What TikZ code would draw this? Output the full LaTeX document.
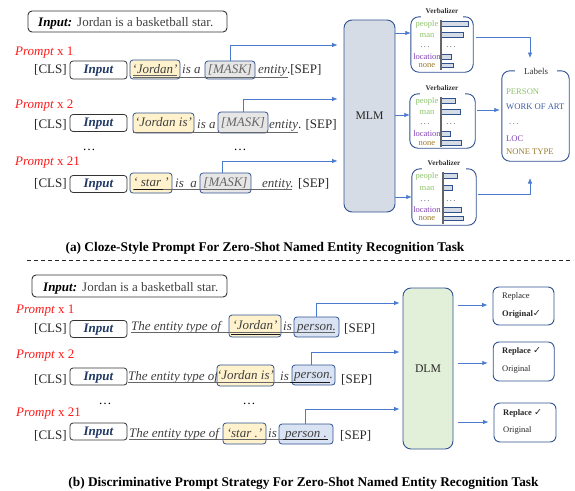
\documentclass[tikz,border=0pt]{standalone}
\usepackage{fontspec}
\setmainfont{Liberation Serif}
\newfontfamily\symfont{DejaVu Sans}
\usetikzlibrary{arrows.meta}
\newcommand\fsz[1]{\fontsize{#1pt}{#1pt}\selectfont}
\definecolor{edgeblue}{HTML}{2F528F}
\definecolor{arrowblue}{HTML}{4A7BD0}
\definecolor{fillyel}{HTML}{FFF2CC}
\definecolor{fillgrey}{HTML}{E7E6E6}
\definecolor{fillperson}{HTML}{DAE3F3}
\definecolor{fillmlm}{HTML}{D6DCE5}
\definecolor{filldlm}{HTML}{E2F0D9}
\definecolor{navy}{HTML}{1F3864}
\definecolor{pgreen}{HTML}{8DC26A}
\definecolor{ppurple}{HTML}{8040B0}
\definecolor{polive}{HTML}{9A7B2C}
\definecolor{pblue}{HTML}{3B5BA5}
\definecolor{promptred}{HTML}{FF1A1A}
\definecolor{txtgrey}{HTML}{404040}
\begin{document}
\begin{tikzpicture}[x=1pt,y=-1pt,
  every node/.style={inner sep=0pt,font=\fsz{13}},
  txt/.style={anchor=base west,text=black!85},
  itx/.style={anchor=base west,text=txtgrey,font=\fsz{13}\itshape},
  prm/.style={anchor=base west,text=promptred},
  inbox/.style={draw=black!80,line width=0.8pt,rounded corners=3pt,fill=white,
    minimum width=57pt,text height=9pt,text depth=2pt,text=navy,font=\fsz{13}\bfseries\itshape},
  tagbox/.style={draw=edgeblue,line width=0.8pt,rounded corners=3pt,
    text height=9pt,text depth=2pt,text=txtgrey,font=\fsz{13}\itshape},
  ent/.style={tagbox,fill=fillyel},
  msk/.style={tagbox,fill=fillgrey,text=black!60},
  per/.style={tagbox,fill=fillperson},
  lm/.style={draw=edgeblue,line width=0.9pt,rounded corners=8pt,font=\fsz{11.7},text=black!85},
  arr/.style={draw=arrowblue,line width=0.7pt,-{Latex[length=5.5pt,width=4.5pt]}},
  uline/.style={draw=black!60,line width=0.8pt},
  udark/.style={draw=black!90,line width=1pt},
  vword/.style={font=\fsz{8.5},anchor=base},
  bar/.style={draw=edgeblue,fill=fillmlm,line width=0.7pt},
  vframe/.style={draw=edgeblue,line width=0.9pt,rounded corners=8pt},
  res/.style={draw=edgeblue,line width=0.9pt,rounded corners=6pt},
  rtxt/.style={anchor=base west,font=\fsz{8.5},text=black!85},
  lab/.style={anchor=base west,font=\fsz{8.6}},
  captxt/.style={anchor=base,font=\fsz{13.3}\bfseries}]
\useasboundingbox (0,0) rectangle (575,490);

% ---------- (a) cloze-style prompts ----------
\node[draw=black!80,line width=0.9pt,rounded corners=4pt,minimum width=199pt,minimum height=21pt] (ina) at (127.5,21.5) {};
\node[anchor=base west,font=\fsz{13}\bfseries\itshape] (ina1) at (38,26) {Input:};
\node[txt,text=black!75] (ina2) at (77,26) {Jordan is a basketball star.};

\node[prm] (pa1) at (15,55) {\textit{Prompt} x 1};
\node[prm] (pa2) at (15,108) {\textit{Prompt} x 2};
\node[prm] (pa3) at (15,165) {\textit{Prompt} x 21};

% row 1
\node[txt] (ca1) at (34,73) {[CLS]};
\node[inbox,minimum height=18pt] (ia1) at (98.5,70) {Input};
\node[ent,minimum width=50pt,minimum height=19pt] (ea1) at (155,69.5) {‘Jordan’};
\node[itx] (ta1) at (182,73) {is a};
\node[msk,minimum width=50pt,minimum height=18pt] (ma1) at (230,70) {[MASK]};
\node[txt] (sa1) at (258,73) {{\color{txtgrey}\itshape entity}.[SEP]};
\draw[uline] (133,75) -- (177,75);
\draw[uline] (133,77.7) -- (288,77.7);

% row 2
\node[txt] (ca2) at (34,128) {[CLS]};
\node[inbox,minimum height=17pt] (ia2) at (98.5,123) {Input};
\node[ent,minimum width=61pt,minimum height=20pt] (ea2) at (163.5,123) {‘Jordan is’};
\node[itx] (ta2) at (197,128) {is a};
\node[msk,minimum width=50pt,minimum height=21pt] (ma2) at (243,122.5) {[MASK]};
\node[txt] (sa2) at (269,128) {{\color{txtgrey}\itshape entity}. [SEP]};
\draw[uline] (133,132.7) -- (298,132.7);

\node[anchor=base] (da1) at (89,150) {\dots};
\node[anchor=base] (da2) at (240,150) {\dots};

% row 3
\node[txt] (ca3) at (34,187) {[CLS]};
\node[inbox,minimum height=17pt] (ia3) at (98.5,184) {Input};
\node[ent,minimum width=42pt,minimum height=20pt] (ea3) at (151,183) {‘ star ’};
\node[itx] (ta3) at (175,187) {is\ \ a};
\node[msk,minimum width=51pt,minimum height=20pt] (ma3) at (225.5,183) {[MASK]};
\node[itx] (sa3) at (262,187) {entity.};
\node[txt] (sp3) at (298,187) {[SEP]};
\draw[uline] (133,189.3) -- (292,189.3);
\draw[udark] (134,189) -- (163,189);

% masked language model
\node[lm,fill=fillmlm,minimum width=51pt,minimum height=192pt] (mlm) at (369.5,116) {MLM};
\draw[arr,shorten >=6pt] (ma1.north) |- (mlm.west |- 0,45);
\draw[arr,shorten >=6pt] (ma2.north) |- (mlm.west |- 0,99);
\draw[arr,shorten >=6pt] ([xshift=-3pt]ma3.north) |- (mlm.west |- 0,161);

% verbalizers
\node[minimum width=62pt,minimum height=55pt] (v1) at (442,44.5) {};
\node[minimum width=65pt,minimum height=54pt] (v2) at (442.5,121) {};
\node[minimum width=64pt,minimum height=56pt] (v3) at (444,197) {};
\foreach \v in {v1,v2,v3}{
  \draw[vframe] ([xshift=10pt]\v.north west) -- (\v.north west) -- (\v.south west)
    -- (\v.south east) -- (\v.north east) -- ([xshift=-10pt]\v.north east);
}
\node[anchor=base,font=\fsz{7.3}\bfseries,text=black!80] (vt1) at (442,13.5) {Verbalizer};
\node[anchor=base,font=\fsz{7.3}\bfseries,text=black!80] (vt2) at (442,90.5) {Verbalizer};
\node[anchor=base,font=\fsz{7.3}\bfseries,text=black!80] (vt3) at (444,165) {Verbalizer};

\foreach \v/\yp/\ym/\yd/\yl/\yn in {1/26/37/47/59/67.5, 2/103/114/124/136/145, 3/178/190/201/212.5/220.5}{
  \node[vword,text=pgreen] (pe\v) at (427,\yp) {people};
  \node[vword,text=pgreen] (mn\v) at (427,\ym) {man};
  \node[vword,text=black!70] (dl\v) at (425,\yd) {.\,.\,.};
  \node[vword,text=ppurple] (lo\v) at (427,\yl) {location};
  \node[vword,text=polive] (no\v) at (427,\yn) {none};
  \node[vword,text=black!70] (dr\v) at (451,\yd) {.\,.\,.};
}
% score bars
\foreach \x/\y/\xe in {441/24/468, 441/35/463, 441/57/451, 441/65.5/453,
                        441/101/455, 441/112/460, 441/134/450, 441/143/461,
                        443/176/457, 443/188/452, 443/210/461, 443/218.5/463}{
  \draw[bar] (\x,\y-2.25) rectangle (\xe,\y+2.25);
}
\draw[black!60,line width=1.2pt] (441,20) -- (441,70);
\draw[black!60,line width=1.2pt] (441,97) -- (441,147);
\draw[black!60,line width=1.2pt] (443,172) -- (443,224);

\draw[arr] ([yshift=11.5pt]mlm.east |- v1.west) -- ([yshift=11.5pt]v1.west);
\draw[arr] ([yshift=6pt]mlm.east |- v2.west) -- ([yshift=6pt]v2.west);
\draw[arr] (mlm.east |- v3.west) -- (v3.west);

% label set
\node[minimum width=67pt,minimum height=90pt] (labs) at (535.5,116) {};
\draw[vframe] ([xshift=13pt]labs.north west) -- (labs.north west) -- (labs.south west)
  -- (labs.south east) -- (labs.north east) -- ([xshift=-12pt]labs.north east);
\node[anchor=base,font=\fsz{9},text=black!80] (labt) at (536,74) {Labels};
\node[lab,text=pgreen] (lb1) at (506,94) {PERSON};
\node[lab,text=pblue] (lb2) at (506,109) {WORK OF ART};
\node[lab,text=pblue] (lb3) at (509,124) {.\,.\,.};
\node[lab,text=ppurple] (lb4) at (506,141) {LOC};
\node[lab,text=polive] (lb5) at (506,154.5) {NONE TYPE};

\coordinate (labtop) at (530,58);
\coordinate (labbot) at (530,178);
\draw[arr] ([xshift=3pt,yshift=7.5pt]v1.east) -| (labtop);
\draw[arr] ([xshift=2pt,yshift=11pt]v2.east) -- ([xshift=-2pt,yshift=6pt]labs.west);
\draw[arr] ([xshift=2pt,yshift=3pt]v3.east) -| (labbot);

\node[captxt] (capa) at (265,251) {(a) Cloze-Style Prompt For Zero-Shot Named Entity Recognition Task};
\draw[black!85,line width=0.8pt,dash pattern=on 4pt off 3pt] (27,260) -- (573,260);

% ---------- (b) discriminative prompts ----------
\node[draw=black!80,line width=0.9pt,rounded corners=4pt,minimum width=195pt,minimum height=22pt] (inb) at (129.5,286) {};
\node[anchor=base west,font=\fsz{13}\bfseries\itshape] (inb1) at (43,291.5) {Input:};
\node[txt,text=black!75] (inb2) at (82,291.5) {Jordan is a basketball star.};

\node[prm] (pb1) at (16,313) {\textit{Prompt} x 1};
\node[prm] (pb2) at (16,358) {\textit{Prompt} x 2};
\node[prm] (pb3) at (16,416) {\textit{Prompt} x 21};

% row 1
\node[txt] (cb1) at (34,332.5) {[CLS]};
\node[inbox,minimum height=17pt] (ib1) at (98.5,329) {Input};
\node[itx] (tb1) at (131,330.5) {The entity type of};
\node[ent,minimum width=52pt,minimum height=22pt] (eb1) at (255,326) {‘Jordan’};
\node[itx] (sb1) at (283,330.5) {is};
\node[per,minimum width=45pt,minimum height=20pt] (pr1) at (316.5,327) {person.};
\node[txt] (qb1) at (344,332) {[SEP]};
\draw[uline] (131,332.2) -- (335,332.2);
\draw[udark] (231,334.5) -- (280,334.5);

% row 2
\node[txt] (cb2) at (34,383) {[CLS]};
\node[inbox,minimum height=17pt] (ib2) at (98.5,376.5) {Input};
\node[itx] (tb2) at (128,380.5) {The entity type of};
\node[ent,minimum width=55pt,minimum height=21pt] (eb2) at (245.5,375.5) {‘Jordan is’};
\node[itx] (sb2) at (280,380.5) {is};
\node[per,minimum width=43pt,minimum height=20pt] (pr2) at (313.5,375) {person.};
\node[txt] (qb2) at (341,383) {[SEP]};
\draw[uline] (128,382) -- (290,382);
\draw[udark] (290,382.5) -- (330,382.5);

\node[anchor=base] (db1) at (105,404) {\dots};
\node[anchor=base] (db2) at (249,404) {\dots};

% row 3
\node[txt] (cb3) at (34,439) {[CLS]};
\node[inbox,minimum height=17pt] (ib3) at (98.5,431.5) {Input};
\node[itx] (tb3) at (129,437.5) {The entity type of};
\node[ent,minimum width=43pt,minimum height=21pt] (eb3) at (244.5,433.5) {‘star .’};
\node[itx] (sb3) at (268,437.5) {is};
\node[per,minimum width=54pt,minimum height=20pt] (pr3) at (306,434) {person .};
\node[txt] (qb3) at (340,439) {[SEP]};
\draw[uline] (129,439.3) -- (283,439.3);
\draw[udark] (283,439.5) -- (328,439.5);

% discriminative language model
\node[lm,fill=filldlm,minimum width=50pt,minimum height=161pt] (dlm) at (428,368.5) {DLM};
\draw[arr,shorten >=3pt] (pr1.north) |- (dlm.west |- 0,303);
\draw[arr,shorten >=3pt] ([xshift=-2pt]pr2.north) |- (dlm.west |- 0,352);
\draw[arr,shorten >=3pt] ([xshift=-1pt]pr3.north) |- (dlm.west |- 0,409);

% decisions
\node[res,minimum width=61pt,minimum height=38pt] (r1) at (523.5,306) {};
\node[res,minimum width=61pt,minimum height=39pt] (r2) at (523.7,361.5) {};
\node[res,minimum width=62pt,minimum height=39pt] (r3) at (525,422.5) {};
\node[rtxt] (r1a) at (502,298.5) {Replace};
\node[rtxt] (r1b) at (502,316.5) {\textbf{Original}{\symfont\fsz{9.5}✓}};
\node[rtxt] (r2a) at (502,353.5) {\textbf{Replace} {\symfont\fsz{9.5}✓}};
\node[rtxt] (r2b) at (502,371.5) {Original};
\node[rtxt] (r3a) at (503,415) {\textbf{Replace} {\symfont\fsz{9.5}✓}};
\node[rtxt] (r3b) at (503,432.5) {Original};

\draw[arr,shorten <=5pt,shorten >=5pt] (dlm.east |- 0,305) -- (r1.west |- 0,305);
\draw[arr,shorten <=5pt,shorten >=5pt] (dlm.east |- 0,363) -- (r2.west |- 0,363);
\draw[arr,shorten <=5pt,shorten >=5pt] (dlm.east |- 0,422) -- (r3.west |- 0,422);

\node[captxt] (capb) at (303.5,486) {(b) Discriminative Prompt Strategy For Zero-Shot Named Entity Recognition Task};
\end{tikzpicture}
\end{document}
